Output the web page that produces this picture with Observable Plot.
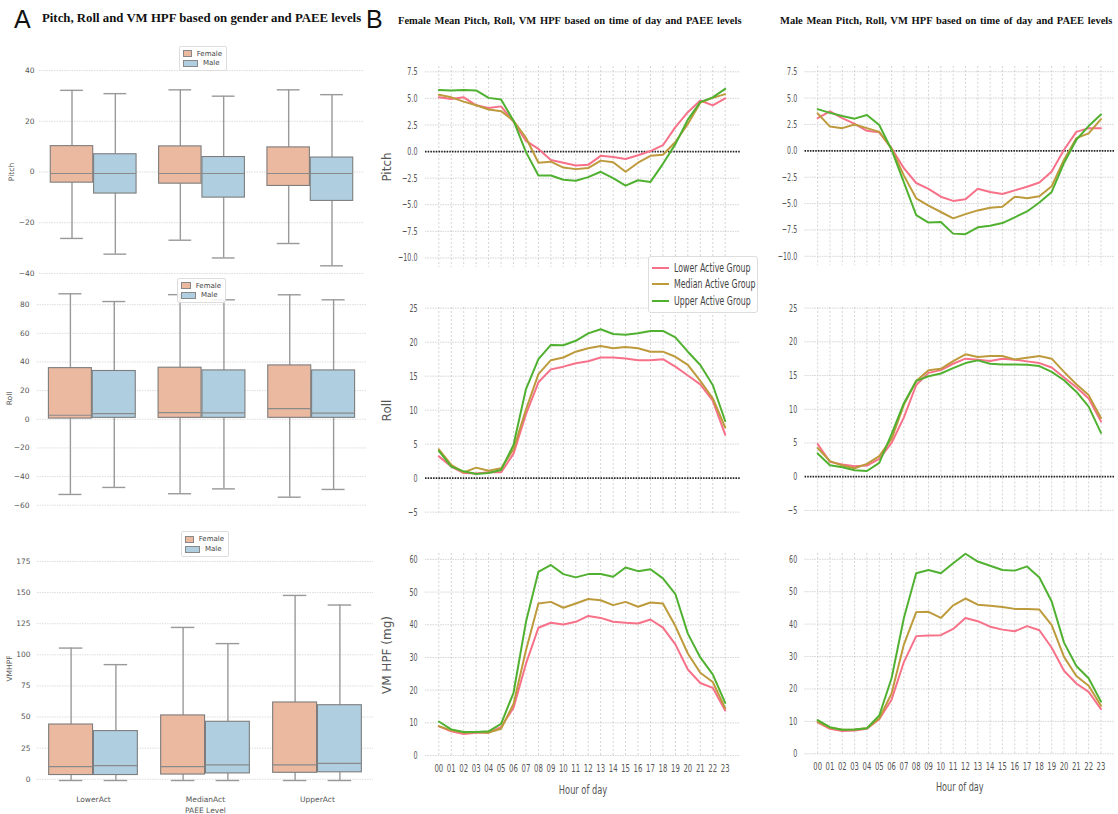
<!DOCTYPE html>
<html>
<head>
<meta charset="utf-8">
<script src="https://cdn.jsdelivr.net/npm/d3@7"></script>
<script src="https://cdn.jsdelivr.net/npm/@observablehq/plot@0.6"></script>
<style>
  html, body { margin: 0; padding: 0; background: #fff; }
  body { width: 1118px; height: 814px; position: relative; overflow: hidden; font-family: "DejaVu Sans", sans-serif; }
  .abs { position: absolute; }
  .panelLetter { font-family: "Liberation Sans", "DejaVu Sans", sans-serif; font-size: 25px; color: #111; line-height: 1; }
  .serifTitle { font-family: "Liberation Serif", "DejaVu Serif", serif; font-weight: bold; color: #111; white-space: nowrap; line-height: 1; }
  .boxLegend { border: 1px solid #ddd; border-radius: 2px; background: rgba(255,255,255,0.85); font-family: "DejaVu Sans", sans-serif; font-size: 7px; color: #444; padding: 2px 4px 2px 3px; }
  .boxLegend .row { display: flex; align-items: center; height: 9px; }
  .boxLegend .sw { width: 13px; height: 5px; margin-right: 5px; border: 0.6px solid #888; }
  .lineLegend { border: 1px solid #ddd; border-radius: 3px; background: #fff; font-family: "DejaVu Sans", sans-serif; font-size: 11.5px; color: #444; padding: 3px 2px 3px 3px; width: 110px; box-sizing: border-box; }
  .lineLegend .row { display: flex; align-items: center; height: 16.3px; white-space: nowrap; }
  .lineLegend .sw { width: 17px; height: 2px; margin-right: 5px; flex: none; }
  .lineLegend .tx { display: inline-block; transform: scaleX(0.68); transform-origin: left center; }
</style>
</head>
<body>
<div class="abs panelLetter" style="left:14px; top:7px;">A</div>
<div class="abs serifTitle" style="left:42px; top:12px; font-size:12.8px;">Pitch, Roll and VM HPF based on gender and PAEE levels</div>
<div class="abs panelLetter" style="left:366px; top:7px;">B</div>
<div class="abs serifTitle" style="left:398px; top:16px; font-size:10.5px; word-spacing:1.2px;">Female Mean Pitch, Roll, VM HPF based on time of day and PAEE levels</div>
<div class="abs serifTitle" style="left:780px; top:16px; font-size:10.5px; word-spacing:1.1px;">Male Mean Pitch, Roll, VM HPF based on time of day and PAEE levels</div>
<script>
// ---------------- DATA ----------------
const paeeGroups = ["LowerAct", "MedianAct", "UpperAct"];
const genders = ["Female", "Male"];
const genderColors = ["#ebb9a0", "#afcfe0"];

// box statistics per PAEE group: [lower whisker, Q1, median, Q3, upper whisker]
const pitchFemaleStats = [[-26.2, -4.2, -0.6, 10.2, 32.2], [-26.9, -4.6, -0.6, 10.1, 32.4], [-28.2, -5.5, -0.6, 9.7, 32.4]];
const pitchMaleStats   = [[-32.4, -8.5, -0.6, 7.0, 30.9], [-33.9, -10.1, -0.6, 5.9, 29.9], [-37.0, -11.4, -0.6, 5.7, 30.5]];
const rollFemaleStats  = [[-52.5, 0.5, 2.8, 35.7, 87.6], [-52.0, 1.0, 4.7, 36.0, 87.0], [-54.4, 1.0, 7.4, 37.6, 86.9]];
const rollMaleStats    = [[-47.6, 1.0, 4.0, 33.7, 82.2], [-48.6, 1.0, 4.5, 34.1, 83.4], [-49.0, 1.0, 4.3, 34.1, 83.4]];
const vmFemaleStats    = [[-1, 3.4, 10.1, 44.0, 105.4], [-1, 3.8, 10.1, 51.3, 122.0], [-1, 5.2, 11.6, 61.7, 147.7]];
const vmMaleStats      = [[-1, 3.4, 10.9, 38.7, 92.1], [-1, 4.7, 11.6, 46.2, 109.0], [-1, 5.6, 12.8, 59.5, 140.0]];

const pitchBoxTicks = [-40, -20, 0, 20, 40];
const rollBoxTicks = [-60, -40, -20, 0, 20, 40, 60, 80];
const vmBoxTicks = [0, 25, 50, 75, 100, 125, 150, 175];

const hourLabels = ["00","01","02","03","04","05","06","07","08","09","10","11","12","13","14","15","16","17","18","19","20","21","22","23"];
const activityGroups = ["Lower Active Group", "Median Active Group", "Upper Active Group"];
const activityColors = ["#f77189", "#bd9a3c", "#50b131"];

const femalePitchLower  = [5.1, 4.95, 5.1, 4.35, 4.1, 4.25, 2.8, 1.0, 0.25, -0.8, -1.05, -1.3, -1.25, -0.4, -0.5, -0.7, -0.35, 0.05, 0.6, 2.3, 3.7, 4.8, 4.35, 5.0];
const femalePitchMedian = [5.35, 5.1, 4.7, 4.35, 3.95, 3.8, 2.9, 1.3, -1.05, -0.95, -1.5, -1.65, -1.55, -0.85, -1.0, -1.9, -1.05, -0.4, -0.3, 0.9, 2.6, 4.6, 5.05, 5.4];
const femalePitchUpper  = [5.8, 5.75, 5.8, 5.75, 5.05, 4.9, 2.9, -0.05, -2.25, -2.25, -2.65, -2.75, -2.4, -1.9, -2.5, -3.2, -2.7, -2.85, -1.15, 0.7, 3.0, 4.65, 5.1, 5.9];

const femaleRollLower  = [3.2, 1.7, 0.75, 0.7, 0.85, 0.85, 3.6, 9.4, 14.1, 16.0, 16.4, 16.9, 17.2, 17.75, 17.75, 17.6, 17.35, 17.35, 17.5, 16.4, 15.1, 13.8, 11.4, 6.4];
const femaleRollMedian = [4.25, 1.95, 0.85, 1.55, 1.1, 1.45, 4.25, 10.1, 15.3, 17.35, 17.75, 18.6, 19.1, 19.45, 19.1, 19.3, 19.1, 18.6, 18.6, 17.85, 16.65, 14.3, 11.75, 7.45];
const femaleRollUpper  = [4.0, 1.7, 1.0, 0.6, 0.75, 1.2, 4.9, 13.1, 17.5, 19.6, 19.55, 20.2, 21.3, 21.9, 21.2, 21.1, 21.3, 21.65, 21.65, 20.7, 18.6, 16.65, 13.7, 8.4];

const femaleVmLower  = [8.9, 7.4, 6.6, 7.0, 7.0, 8.7, 14.6, 28.1, 39.1, 40.6, 40.1, 40.9, 42.7, 42.1, 40.9, 40.6, 40.4, 41.6, 39.1, 34.0, 26.3, 22.2, 20.7, 13.8];
const femaleVmMedian = [9.0, 7.7, 7.0, 7.2, 7.0, 8.2, 15.8, 32.2, 46.5, 47.0, 45.2, 46.5, 47.9, 47.5, 46.0, 47.0, 45.5, 46.8, 46.5, 39.6, 31.2, 25.3, 22.5, 14.5];
const femaleVmUpper  = [10.4, 8.0, 7.2, 7.2, 7.4, 9.7, 19.2, 40.9, 56.2, 58.3, 55.5, 54.5, 55.5, 55.5, 54.7, 57.5, 56.4, 57.0, 54.2, 49.4, 37.3, 30.0, 24.8, 16.1];

const malePitchLower  = [3.1, 3.75, 3.1, 2.55, 1.9, 1.75, 0.25, -1.65, -3.05, -3.6, -4.35, -4.75, -4.6, -3.6, -3.9, -4.1, -3.75, -3.4, -3.0, -1.95, 0.1, 1.8, 2.15, 2.15];
const malePitchMedian = [3.55, 2.3, 2.15, 2.5, 2.15, 1.8, 0.2, -2.35, -4.5, -5.2, -5.8, -6.4, -6.0, -5.65, -5.4, -5.3, -4.35, -4.5, -4.3, -3.35, -0.85, 1.2, 1.65, 3.0];
const malePitchUpper  = [3.95, 3.6, 3.3, 3.05, 3.4, 2.45, 0.1, -3.0, -6.1, -6.8, -6.75, -7.85, -7.9, -7.25, -7.1, -6.85, -6.3, -5.75, -4.9, -3.9, -1.15, 1.05, 2.35, 3.45];

const maleRollLower  = [4.85, 2.2, 1.8, 1.55, 1.65, 2.65, 5.0, 8.8, 13.6, 15.4, 15.8, 16.75, 17.5, 17.35, 17.15, 17.5, 17.35, 17.1, 16.85, 16.2, 14.7, 13.25, 11.6, 8.2];
const maleRollMedian = [4.25, 2.3, 1.65, 1.25, 1.9, 3.05, 5.6, 10.65, 14.2, 15.8, 16.0, 17.15, 18.15, 17.75, 17.9, 17.9, 17.4, 17.65, 17.9, 17.5, 15.55, 13.7, 12.1, 8.7];
const maleRollUpper  = [3.45, 1.7, 1.4, 0.95, 0.85, 2.05, 6.3, 10.9, 14.2, 14.9, 15.3, 16.1, 16.85, 17.25, 16.75, 16.65, 16.65, 16.6, 16.4, 15.55, 14.3, 12.6, 10.4, 6.5];

const maleVmLower  = [9.7, 7.7, 7.0, 7.2, 7.7, 10.7, 16.7, 28.3, 36.3, 36.5, 36.6, 38.5, 41.9, 40.9, 39.2, 38.3, 37.8, 39.4, 38.1, 32.7, 25.6, 21.7, 19.1, 13.8];
const maleVmMedian = [9.9, 8.0, 7.4, 7.5, 7.9, 10.9, 18.6, 33.7, 43.7, 43.8, 41.9, 45.8, 47.9, 46.0, 45.7, 45.3, 44.7, 44.7, 44.5, 39.7, 29.9, 24.0, 21.0, 14.8];
const maleVmUpper  = [10.4, 8.2, 7.4, 7.5, 7.9, 11.8, 23.3, 41.9, 55.7, 56.7, 55.7, 58.8, 61.7, 59.3, 58.0, 56.7, 56.5, 57.8, 54.4, 47.0, 34.3, 27.1, 23.3, 16.1];

const pitchLineTicks = [-10, -7.5, -5, -2.5, 0, 2.5, 5, 7.5];
const rollLineTicks = [-5, 0, 5, 10, 15, 20, 25];
const vmLineTicks = [0, 10, 20, 30, 40, 50, 60];

// ---------------- HELPERS ----------------
function place(svg, left, top) {
  const d = document.createElement("div");
  d.className = "abs";
  d.style.left = left + "px";
  d.style.top = top + "px";
  d.appendChild(svg);
  document.body.appendChild(d);
}

// squeeze axis texts horizontally to imitate the horizontally compressed original
function condense(svg, selector, fontSize, factor) {
  svg.querySelectorAll(selector).forEach(t => {
    t.style.fontSize = fontSize + "px";
    if (factor !== 1) {
      const w = t.getComputedTextLength();
      if (w > 0) {
        t.setAttribute("textLength", (w * factor).toFixed(2));
        t.setAttribute("lengthAdjust", "spacingAndGlyphs");
      }
    }
  });
}

function boxPanel({female, male, ticks, yDomain, frame, yLabel, showX, tickPad}) {
  const [l, t, r, b] = frame;
  const ml = 45, mr = 6, mt = 6, mb = showX ? 36 : 6;
  const rows = [];
  paeeGroups.forEach((g, i) => {
    [female, male].forEach((stats, k) => {
      const [lo, q1, med, q3, hi] = stats[i];
      rows.push({gi: i, c: i + (k === 0 ? -0.2 : 0.2), gender: genders[k], lo, q1, med, q3, hi});
    });
  });
  const svg = Plot.plot({
    width: r - l + ml + mr,
    height: b - t + mt + mb,
    marginLeft: ml, marginRight: mr, marginTop: mt, marginBottom: mb,
    style: {background: "transparent", overflow: "visible", fontFamily: "DejaVu Sans, sans-serif", fontSize: "7.5px", color: "#555"},
    x: {type: "linear", domain: [-0.5, 2.5], axis: showX ? "bottom" : null, ticks: [0, 1, 2], tickFormat: i => paeeGroups[i], tickSize: 0, tickPadding: 11, label: showX ? "PAEE Level" : null, labelArrow: "none", labelAnchor: "center", labelOffset: 27},
    y: {domain: yDomain, ticks, tickSize: 0, tickPadding: tickPad, tickFormat: d => d < 0 ? "\u2212" + Math.abs(d) : String(d), label: yLabel, labelArrow: "none", labelAnchor: "center", labelOffset: 31},
    color: {domain: genders, range: genderColors},
    marks: [
      Plot.ruleY(ticks, {stroke: "#d4d4d4", strokeDasharray: "1.5,1", strokeWidth: 0.8}),
      Plot.ruleX(rows, {x: "c", y1: "lo", y2: "q1", stroke: "#999", strokeWidth: 1.4}),
      Plot.ruleX(rows, {x: "c", y1: "q3", y2: "hi", stroke: "#999", strokeWidth: 1.4}),
      Plot.ruleY(rows, {y: "hi", x1: d => d.c - 0.105, x2: d => d.c + 0.105, stroke: "#999", strokeWidth: 1.4}),
      Plot.ruleY(rows, {y: "lo", x1: d => d.c - 0.105, x2: d => d.c + 0.105, stroke: "#999", strokeWidth: 1.4}),
      Plot.rectY(rows, {x1: d => d.c - 0.196, x2: d => d.c + 0.196, y1: "q1", y2: "q3", fill: "gender", stroke: "#7d7d7d", strokeWidth: 1.1}),
      Plot.ruleY(rows, {y: "med", x1: d => d.c - 0.196, x2: d => d.c + 0.196, stroke: "#8a8a8a", strokeWidth: 1.2})
    ]
  });
  place(svg, l - ml, t - mt);
}

function boxLegend(left, top, w, h) {
  const d = document.createElement("div");
  d.className = "abs boxLegend";
  d.style.left = left + "px";
  d.style.top = top + "px";
  d.style.width = w + "px";
  d.style.boxSizing = "border-box";
  genders.forEach((g, i) => {
    const r = document.createElement("div");
    r.className = "row";
    r.style.height = h + "px";
    const s = document.createElement("span");
    s.className = "sw";
    s.style.background = genderColors[i];
    const tx = document.createElement("span");
    tx.textContent = g;
    r.appendChild(s); r.appendChild(tx);
    d.appendChild(r);
  });
  document.body.appendChild(d);
}

function linePanel({series, ticks, yDomain, xDomain, frame, yLabel, showX, zero, fmt}) {
  const [l, t, r, b] = frame;
  const ml = 50, mr = 4, mt = 6, mb = showX ? 40 : 6;
  const rows = [];
  series.forEach((vals, k) => vals.forEach((v, h) => rows.push({h, v, g: activityGroups[k]})));
  const hourIdx = hourLabels.map((_, i) => i);
  const marks = [
    Plot.ruleX(hourIdx, {stroke: "#c9c9c9", strokeDasharray: "2,2", strokeWidth: 0.8}),
    Plot.ruleY(ticks, {stroke: "#c9c9c9", strokeDasharray: "1.5,1", strokeWidth: 0.8})
  ];
  if (zero) marks.push(Plot.ruleY([0], {stroke: "#222", strokeDasharray: "1.5,1.2", strokeWidth: 1.7}));
  marks.push(Plot.line(rows, {x: "h", y: "v", z: "g", stroke: "g", strokeWidth: 2}));
  const svg = Plot.plot({
    width: r - l + ml + mr,
    height: b - t + mt + mb,
    marginLeft: ml, marginRight: mr, marginTop: mt, marginBottom: mb,
    style: {background: "transparent", overflow: "visible", fontFamily: "DejaVu Sans, sans-serif", fontSize: "11px", color: "#555"},
    x: {type: "linear", domain: xDomain, axis: showX ? "bottom" : null, ticks: hourIdx, tickFormat: i => hourLabels[i], tickSize: 0, tickPadding: 8, label: showX ? "Hour of day" : null, labelArrow: "none", labelAnchor: "center", labelOffset: 37},
    y: {domain: yDomain, ticks, tickSize: 0, tickPadding: 8, tickFormat: fmt, label: yLabel, labelArrow: "none", labelAnchor: "center", labelOffset: 43},
    color: {domain: activityGroups, range: activityColors},
    marks
  });
  place(svg, l - ml, t - mt);
  condense(svg, 'g[aria-label="y-axis tick label"] text', 11, 0.58);
  condense(svg, 'g[aria-label="x-axis tick label"] text', 11, 0.63);
  condense(svg, 'g[aria-label="x-axis label"] text', 12.5, 0.66);
  condense(svg, 'g[aria-label="y-axis label"] text', 12, 1);
}

const fmt1 = d => (d < 0 ? "\u2212" : "") + Math.abs(d).toFixed(1);
const fmt0 = d => (d < 0 ? "\u2212" : "") + Math.abs(d);

// ---------------- LEFT COLUMN: BOX PLOTS ----------------
boxPanel({female: pitchFemaleStats, male: pitchMaleStats, ticks: pitchBoxTicks, yDomain: [-42, 42], frame: [39, 65, 364, 278], yLabel: "Pitch", showX: false, tickPad: 5});
boxPanel({female: rollFemaleStats, male: rollMaleStats, ticks: rollBoxTicks, yDomain: [-63, 92], frame: [37, 287, 366, 509], yLabel: "Roll", showX: false, tickPad: 8});
boxPanel({female: vmFemaleStats, male: vmMaleStats, ticks: vmBoxTicks, yDomain: [-5, 183], frame: [37, 551, 373, 785], yLabel: "VMHPF", showX: true, tickPad: 7});

boxLegend(179, 46, 48, 9.5);
boxLegend(177, 278, 49, 9.5);
boxLegend(181, 531, 48, 10);

// ---------------- MIDDLE COLUMN: FEMALE ----------------
const midX = [-1.07, 24.23];
linePanel({series: [femalePitchLower, femalePitchMedian, femalePitchUpper], ticks: pitchLineTicks, yDomain: [-10.9, 8.0], xDomain: midX, frame: [425, 66, 740, 267], yLabel: "Pitch", showX: false, zero: true, fmt: fmt1});
linePanel({series: [femaleRollLower, femaleRollMedian, femaleRollUpper], ticks: rollLineTicks, yDomain: [-5.2, 25.1], xDomain: midX, frame: [425, 307, 740, 513], yLabel: "Roll", showX: false, zero: true, fmt: fmt0});
linePanel({series: [femaleVmLower, femaleVmMedian, femaleVmUpper], ticks: vmLineTicks, yDomain: [-0.3, 61.8], xDomain: midX, frame: [425, 553, 740, 756], yLabel: "VM HPF (mg)", showX: true, zero: false, fmt: fmt0});

// ---------------- RIGHT COLUMN: MALE ----------------
const rightX = [-1.02, 24.1];
linePanel({series: [malePitchLower, malePitchMedian, malePitchUpper], ticks: pitchLineTicks, yDomain: [-10.9, 8.0], xDomain: rightX, frame: [805, 66, 1117, 267], yLabel: null, showX: false, zero: true, fmt: fmt1});
linePanel({series: [maleRollLower, maleRollMedian, maleRollUpper], ticks: rollLineTicks, yDomain: [-5.2, 25.1], xDomain: rightX, frame: [805, 307, 1117, 513], yLabel: null, showX: false, zero: true, fmt: fmt0});
linePanel({series: [maleVmLower, maleVmMedian, maleVmUpper], ticks: vmLineTicks, yDomain: [-0.3, 61.8], xDomain: rightX, frame: [805, 553, 1117, 756], yLabel: null, showX: true, zero: false, fmt: fmt0});

// legend for activity groups
(function () {
  const d = document.createElement("div");
  d.className = "abs lineLegend";
  d.style.left = "648px";
  d.style.top = "256px";
  activityGroups.forEach((g, i) => {
    const r = document.createElement("div");
    r.className = "row";
    const s = document.createElement("span");
    s.className = "sw";
    s.style.background = activityColors[i];
    const tx = document.createElement("span");
    tx.className = "tx";
    tx.textContent = g;
    r.appendChild(s); r.appendChild(tx);
    d.appendChild(r);
  });
  document.body.appendChild(d);
})();
</script>
</body>
</html>
